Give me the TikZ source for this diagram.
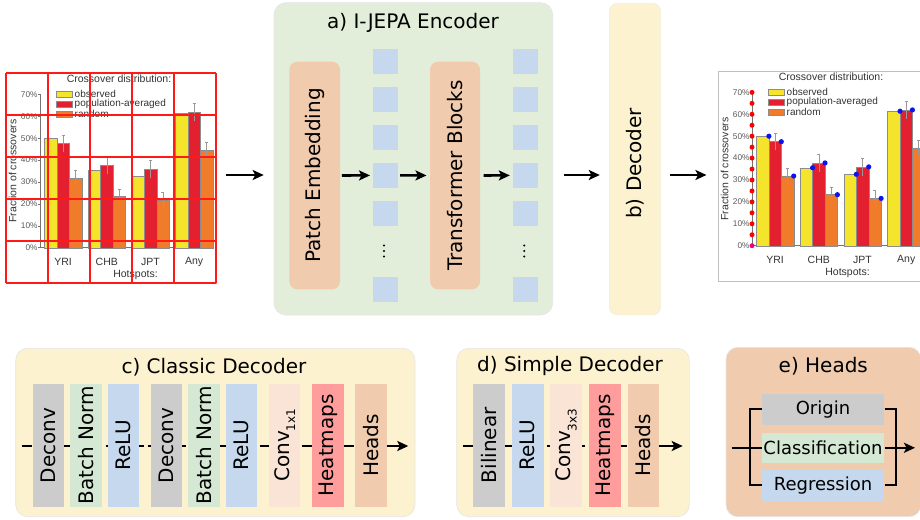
\documentclass[tikz,border=0pt]{standalone}
\usepackage{fontspec}
\setmainfont{DejaVu Sans}
\newfontfamily\chartfont{Liberation Sans}
\usetikzlibrary{arrows.meta,positioning,calc}
\definecolor{encGreen}{HTML}{E3EEDA}
\definecolor{decCream}{HTML}{FDF2CF}
\definecolor{headSalmon}{HTML}{F0CBAE}
\definecolor{tokBlue}{HTML}{C5D8ED}
\definecolor{layGrey}{HTML}{CCCCCC}
\definecolor{layGreen}{HTML}{D5E8D4}
\definecolor{layPeach}{HTML}{F9E4D6}
\definecolor{layPink}{HTML}{FF9D9D}
\definecolor{barYellow}{HTML}{F4E52C}
\definecolor{barRed}{HTML}{E2202F}
\definecolor{barOrange}{HTML}{EF7B2B}
\definecolor{dotBlue}{HTML}{0A14F0}
\tikzset{
  >={Stealth[length=11pt,width=10pt,inset=2.5pt]},
  panel/.style={rounded corners=12pt, draw=black!10, line width=0.6pt, inner sep=0pt},
  grptitle/.style={font=\fontsize{20}{24}\selectfont, inner sep=0pt},
  block/.style={rounded corners=8pt, inner sep=0pt, font=\fontsize{20}{24}\selectfont},
  token/.style={fill=tokBlue, minimum size=25pt, inner sep=0pt},
  lay/.style={minimum width=31.5pt, minimum height=122.7pt, inner sep=0pt,
              font=\fontsize{20}{24}\selectfont},
  headbox/.style={minimum width=122.6pt, minimum height=30.5pt, inner sep=0pt,
              font=\fontsize{18}{22}\selectfont},
  flow/.style={->, line width=2.6pt},
  pipe/.style={line width=2.8pt, dash pattern=on 10pt off 4pt},
  brk/.style={line width=2.2pt},
  chartframe/.style={draw=black!25, line width=0.5pt, minimum size=210pt, inner sep=0pt},
  charttxt/.style={font=\chartfont\fontsize{10.5}{12}\selectfont, inner sep=0pt, text=black!80},
  legtxt/.style={font=\chartfont\fontsize{10}{11}\selectfont, inner sep=0pt, text=black!80},
  ticktxt/.style={font=\chartfont\fontsize{8.3}{10}\selectfont, inner sep=0pt, text=black!65},
  chartaxis/.style={draw=black!55, line width=0.6pt},
  barbox/.style={draw=black!45, line width=0.4pt},
  errbar/.style={draw=black!40, line width=0.5pt},
  gridline/.style={draw=red!90, line width=1.6pt},
}
\newcommand{\convsub}[1]{Conv\raisebox{-0.3em}{\fontsize{12}{12}\selectfont #1}}
% group / name / observed / population-averaged / random
\def\hotspotdata{0/YRI/50/47.5/31.8, 1/CHB/35.6/37.8/23.3, 2/JPT/32.6/36/21.6, 3/Any/61.4/62/44.6}
% the crossover bar chart, prefix #1 for node names
\newcommand{\hotspotchart}[1]{%
  \node[chartframe] (#1frame) at (111,178) {};
  \node[charttxt] (#1title) at (119,79) {Crossover distribution:};
  \foreach \c/\lab/\yy [count=\k] in {barYellow/observed/94.3, barRed/population-averaged/104, barOrange/random/113.7}{
    \draw[barbox, fill=\c] (56,{\yy-3}) rectangle (72,{\yy+3});
    \node[legtxt, anchor=west] (#1leg\k) at (74.5,\yy) {\lab};
  }
  \draw[chartaxis] (40,94.3) -- (40,247.7) -- (214,247.7);
  \foreach \p in {0,10,...,70}{
    \draw[chartaxis] (38,{247.7-2.19*\p}) -- (40,{247.7-2.19*\p});
    \node[ticktxt, anchor=east] (#1tick\p) at (37.8,{247.7-2.19*\p}) {\p\%};
  }
  \foreach \g/\name/\ob/\po/\ra in \hotspotdata{
    \pgfmathsetmacro\xs{44.5+43.7*\g}
    \draw[barbox, fill=barYellow] (\xs,247.7) rectangle ({\xs+12.4},{247.7-2.19*\ob});
    \draw[barbox, fill=barRed] ({\xs+12.4},247.7) rectangle ({\xs+24.8},{247.7-2.19*\po});
    \draw[barbox, fill=barOrange] ({\xs+24.8},247.7) rectangle ({\xs+37.2},{247.7-2.19*\ra});
    \draw[errbar] ({\xs+18.6},{247.7-2.19*(\po+4)}) -- ({\xs+18.6},{247.7-2.19*(\po-4)})
                  ({\xs+17.1},{247.7-2.19*(\po+4)}) -- ({\xs+20.1},{247.7-2.19*(\po+4)});
    \draw[errbar] ({\xs+31},{247.7-2.19*(\ra+3.6)}) -- ({\xs+31},{247.7-2.19*(\ra-3.6)})
                  ({\xs+29.5},{247.7-2.19*(\ra+3.6)}) -- ({\xs+32.5},{247.7-2.19*(\ra+3.6)});
    \node[charttxt] (#1grp\g) at ({\xs+18.6},262) {\name};
  }
  \node[charttxt] (#1xlab) at (135.5,275) {Hotspots:};
  \node[charttxt, rotate=90] (#1ylab) at (12.5,171) {Fraction of crossovers};
}

\begin{document}
\begin{tikzpicture}[x=1pt,y=-1pt]
\useasboundingbox (0,0) rectangle (920,519);
\begin{scope}
\clip (0,0) rectangle (920,519);

% input chart with patch grid
\hotspotchart{L}
\foreach \i in {0,...,5}{
  \draw[gridline] ({6+42*\i},73) -- ({6+42*\i},283);
  \draw[gridline] (6,{73+42*\i}) -- (216,{73+42*\i});
}

% a) encoder
\node[panel, fill=encGreen, minimum width=278.7pt, minimum height=312.3pt] (enc) at (413.35,158.85) {};
\node[grptitle] (encT) at (413,22.5) {a) I-JEPA Encoder};
\node[block, fill=headSalmon, minimum width=50.7pt, minimum height=227.6pt] (patch) at (314.7,175.5) {\rotatebox{90}{Patch Embedding}};
\node[block, fill=headSalmon, minimum width=50pt, minimum height=227.6pt] (trans) at (455,175.5) {\rotatebox{90}{Transformer Blocks}};
\foreach \i in {1,...,5}{
  \node[token] (tokA\i) at (385,{61.7+37.9*(\i-1)}) {};
  \node[token] (tokB\i) at (525.2,{61.7+37.9*(\i-1)}) {};
}
\node[token] (tokA6) at (385,289.3) {};
\node[token] (tokB6) at (525.2,289.3) {};
\foreach \x in {384,524.2}
  \foreach \d in {-5.5,0,5.5}
    \fill (\x,{251+\d}) circle (1.2);
\draw[flow, shorten <=1.7pt, shorten >=2.3pt] (patch) -- (tokA4);
\draw[flow, shorten <=2.5pt, shorten >=3.3pt] (tokA4) -- (trans);
\draw[flow, shorten <=3.3pt, shorten >=2.7pt] (trans) -- (tokB4);

% b) decoder
\node[block, fill=decCream, draw=black!8, minimum width=51.4pt, minimum height=311.7pt] (dec) at (635,159.15) {};
\node[grptitle, rotate=90] (decT) at (635,163.3) {b) Decoder};

% output chart with keypoints
\begin{scope}[shift={(712,-2)}]
  \hotspotchart{R}
  \foreach \p in {5,10,...,70}
    \fill[red] (40,{247.7-2.19*\p}) circle (2.5);
  \fill[magenta] (40,247.7) circle (2.5);
  \foreach \g/\name/\ob/\po/\ra in \hotspotdata{
    \pgfmathsetmacro\xs{44.5+43.7*\g}
    \fill[dotBlue] ({\xs+12.4},{247.7-2.19*\ob}) circle (2.6);
    \fill[dotBlue] ({\xs+24.8},{247.7-2.19*\po}) circle (2.6);
    \fill[dotBlue] ({\xs+37.2},{247.7-2.19*\ra}) circle (2.6);
  }
\end{scope}

\coordinate (midline) at (0,175);
\draw[flow, shorten <=10pt, shorten >=10pt] (Lframe.east |- midline) -- (enc.west |- midline);
\draw[flow, shorten <=10.6pt, shorten >=9.3pt] (enc.east |- midline) -- (dec.west |- midline);
\draw[flow, shorten <=9.3pt, shorten >=11.3pt] (dec.east |- midline) -- (Rframe.west |- midline);

% c) classic decoder
\node[panel, fill=decCream, minimum width=399.3pt, minimum height=168.4pt] (classic) at (215.35,432.5) {};
\node[grptitle] (classicT) at (214,367) {c) Classic Decoder};
\coordinate (cin) at (21.7,446);
\coordinate (cout) at (408.3,446);
\draw[pipe, shorten >=12pt] (cin) -- (cout);
\draw[flow, line width=2.8pt] ([xshift=-22pt]cout) -- (cout);
\foreach \x/\col/\txt [count=\k] in {48.3/layGrey/Deconv, 85.8/layGreen/Batch Norm, 123.5/tokBlue/ReLU,
    166.5/layGrey/Deconv, 204.2/layGreen/Batch Norm, 241.7/tokBlue/ReLU,
    284.7/layPeach/{\convsub{1x1}}, 327.8/layPink/Heatmaps, 370.8/headSalmon/Heads}
  \node[lay, fill=\col] (cl\k) at (\x,445.3) {\rotatebox{90}{\txt}};

% d) simple decoder
\node[panel, fill=decCream, minimum width=232.6pt, minimum height=168.4pt] (simple) at (573,432.5) {};
\node[grptitle] (simpleT) at (570,366) {d) Simple Decoder};
\coordinate (sin) at (462.7,446);
\coordinate (sout) at (682.7,446);
\draw[pipe, shorten >=12pt] (sin) -- (sout);
\draw[flow, line width=2.8pt] ([xshift=-22pt]sout) -- (sout);
\foreach \x/\col/\txt [count=\k] in {489.2/layGrey/Bilinear, 527.8/tokBlue/ReLU,
    566.2/layPeach/{\convsub{3x3}}, 605/layPink/Heatmaps, 643.3/headSalmon/Heads}
  \node[lay, fill=\col] (sl\k) at (\x,445.3) {\rotatebox{90}{\txt}};

% e) heads
\node[panel, fill=headSalmon, minimum width=195pt, minimum height=169.4pt] (heads) at (823.5,432) {};
\node[grptitle] (headsT) at (823.3,366.7) {e) Heads};
\node[headbox, fill=layGrey] (org) at (823,409.3) {Origin};
\node[headbox, fill=layGreen] (cls) at (823,447.8) {Classification};
\node[headbox, fill=tokBlue] (reg) at (823,485.3) {Regression};
\coordinate (hin) at (731.7,447.8);
\coordinate (hout) at (915,447.8);
\draw[brk] (hin) -- (cls.west);
\draw[brk] (org.west) -- ++(-11.7,0) |- (reg.west);
\draw[brk] (org.east) -- ++(11.7,0) |- (reg.east);
\draw[brk, ->] (cls.east) -- (hout);
\end{scope}
\end{tikzpicture}
\end{document}
